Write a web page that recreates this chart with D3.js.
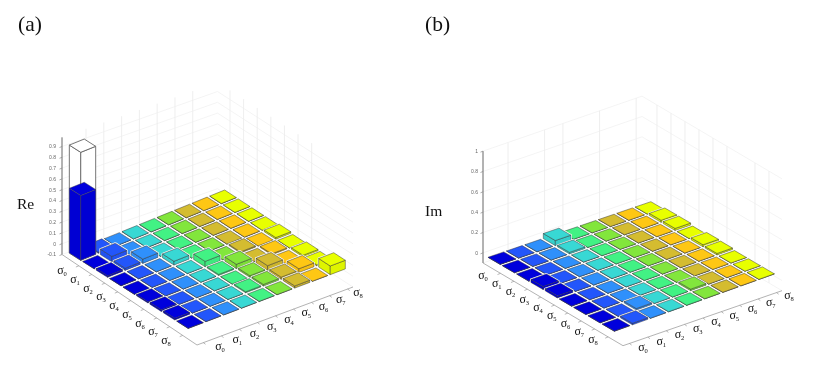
<!DOCTYPE html>
<html><head><meta charset="utf-8">
<script src="https://cdn.jsdelivr.net/npm/d3@7"></script>
<style>html,body{margin:0;padding:0;background:#fff}svg{display:block;filter:blur(.35px)}</style>
</head><body><svg id="c" width="831" height="382"></svg>
<script>
const basis = ["0","1","2","3","4","5","6","7","8"];
const columnColors = ["#0000dc","#2356fb","#2f90fb","#38d8d4","#42f284","#82e63c","#d4bc30","#fec714","#e8ff00"];
const reTicks = [-0.1,0,0.1,0.2,0.3,0.4,0.5,0.6,0.7,0.8,0.9];
const imTicks = [0,0.2,0.4,0.6,0.8,1];
const reIdeal = 1.0;
const imIdeal = 0;
const reValues = [
 [.60,.01,.002,.002,.002,.002,.002,.002,.002],
 [.002,.05,.002,.002,.002,.002,.002,.002,.002],
 [.015,.02,.04,.002,.002,.002,.002,.002,.002],
 [.002,.002,.002,.035,.002,.002,.002,.002,.002],
 [.002,.002,.002,.002,.05,.002,.01,.002,.015],
 [.01,.002,.002,.002,.01,.04,.002,.01,.002],
 [.015,.002,.002,.002,.002,.015,.045,.002,.015],
 [.015,.002,.002,.002,.01,.015,.02,.035,.01],
 [.002,.002,.002,.002,.002,.002,.02,.002,.08]
];
const imValues = [
 [.002,.002,.002,.05,.002,.002,.002,.002,.002],
 [.002,.002,.002,.015,.002,.002,.002,.002,.02],
 [.002,.002,.002,.002,.002,.002,.002,.002,.02],
 [.03,.002,.002,.002,.002,.002,.002,.002,.002],
 [.02,.002,.002,.002,.002,.002,.002,.002,.02],
 [.002,.002,.002,.002,.002,.002,.002,.002,.015],
 [.002,.002,.002,.002,.002,.002,.002,.002,.002],
 [.002,.002,.015,.002,.002,.015,.002,.002,.002],
 [.002,.015,.002,.002,.002,.002,.002,.002,.002]
];
const svg = d3.select("#c");
function bilinear(c){
  return (u,v)=>{
    const a=[d3.interpolate(c[0][0],c[1][0])(u),d3.interpolate(c[0][1],c[1][1])(u)];
    const b=[d3.interpolate(c[2][0],c[3][0])(u),d3.interpolate(c[2][1],c[3][1])(u)];
    return [a[0]+(b[0]-a[0])*v,a[1]+(b[1]-a[1])*v];
  };
}
function panel(o){
  const g=svg.append("g");
  const iS=d3.scaleLinear([0,8],[0,1]), jS=d3.scaleLinear([0,8],[0,1]);
  const grid=bilinear(o.grid);
  const zPx=d3.scaleLinear([0,1],[0,o.zUnit]);
  const P=(i,j,z)=>{const p=grid(iS(i),jS(j));return [p[0],p[1]-zPx(z)];};
  const [L,F,R,B]=o.floor;
  const zF=o.zFloor;
  const up=z=>zPx(z)-zPx(zF);
  const line=d3.line();
  const seg=(a,b,col,w)=>g.append("path").attr("d",line([a,b])).attr("fill","none").attr("stroke",col).attr("stroke-width",w);
  const lerp=(a,b,t)=>[a[0]+(b[0]-a[0])*t,a[1]+(b[1]-a[1])*t];
  o.ticks.filter(t=>t>zF+1e-6).concat([zF]).forEach(t=>{
    const a=[L[0],L[1]-up(t)],b=[B[0],B[1]-up(t)],c=[R[0],R[1]-up(t)];
    g.append("path").attr("d",line([a,b,c])).attr("fill","none").attr("stroke","#f1f1f1").attr("stroke-width",.8);
  });
  const tJ=d3.scaleLinear(o.jLim,[0,1]), tI=d3.scaleLinear(o.iLim,[0,1]);
  const wJ=d3.scaleLinear(o.wallJLim,[0,1]), wI=d3.scaleLinear(o.wallILim,[0,1]);
  o.wallJ.forEach(j=>{const p=lerp(L,B,wJ(j));seg(p,[p[0],p[1]-up(o.zTop)],"#ececec",.9);});
  o.wallI.forEach(i=>{const p=lerp(B,R,wI(i));seg(p,[p[0],p[1]-up(o.zTop)],"#ececec",.9);});
  seg(L,[L[0],L[1]-up(o.zTop)],"#666",1);
  seg(L,F,"#aaa",.9); seg(F,R,"#aaa",.9);
  o.ticks.forEach(t=>{
    const y=L[1]-up(t);
    seg([L[0]-2.5,y+1],[L[0],y],"#888",.7);
    g.append("text").attr("x",L[0]-o.tickGap).attr("y",y+1.8).attr("text-anchor","end")
      .attr("font-family","Liberation Sans").attr("font-size",5).attr("fill","#666")
      .text(Math.abs(t)<1e-9?"0":String(t));
  });
  basis.forEach((s,k)=>{
    const p=lerp(L,F,tI(k)); const q=lerp(F,R,tJ(k));
    seg(p,[p[0]-3,p[1]+1.2],"#999",.7);
    seg(q,[q[0]+2.2,q[1]+1.6],"#999",.7);
    [o.labL(k),o.labB(k)].forEach(pt=>{
      const t=g.append("text").attr("x",pt[0]).attr("y",pt[1]+3).attr("text-anchor","middle")
       .attr("font-family","Liberation Serif").attr("font-size",12).attr("fill","#111");
      t.append("tspan").text("σ");
      t.append("tspan").attr("dy",2).attr("font-size",6.5).text(s);
    });
  });
  const cells=[];
  o.values.forEach((row,i)=>row.forEach((v,j)=>cells.push({i,j,v})));
  cells.sort((a,b)=>(a.i-a.j)-(b.i-b.j));
  const h=.425;
  const quad=(pts,fill,stroke,sw)=>g.append("path").attr("d",line(pts)+"Z").attr("fill",fill).attr("stroke",stroke).attr("stroke-width",sw).attr("stroke-linejoin","round");
  const box=(c,z,col,side,stroke,sw,halo)=>{
    const l=[c.i-h,c.j-h], f=[c.i+h,c.j-h], r=[c.i+h,c.j+h], b=[c.i-h,c.j+h];
    const T=q=>P(q[0],q[1],z), G=q=>P(q[0],q[1],0);
    if(halo) quad([G(l),G(f),G(r),T(r),T(b),T(l)],"#fff","#fff",halo);
    quad([G(l),G(f),T(f),T(l)],side,stroke,sw);
    quad([G(f),G(r),T(r),T(f)],side,stroke,sw);
    quad([T(l),T(f),T(r),T(b)],col,stroke,sw);
  };
  cells.forEach(c=>{
    const col=columnColors[c.j];
    if(c.i===0&&c.j===0&&o.ideal>0) box(c,o.ideal,"#fff","#fff","#666",.9,0);
    box(c,c.v,col,d3.rgb(col).darker(.12).formatHex(),c.v>.2?"#444":"#2a2a2a",.45,c.v>.2?0:2);
  });
  g.append("text").attr("x",o.title[0]).attr("y",o.title[1]).attr("font-family","Liberation Serif").attr("font-size",21.5).attr("fill","#111").text(o.title[2]);
  g.append("text").attr("x",o.name[0]).attr("y",o.name[1]).attr("font-family","Liberation Serif").attr("font-size",15.5).attr("fill","#111").text(o.name[2]);
}
const sx=(a,b)=>d3.scaleLinear([0,8],[a,b]);
const mk=(x0,x1,y0,y1)=>{const X=sx(x0,x1),Y=sx(y0,y1);return k=>[X(k),Y(k)];};
panel({
  values:reValues, ideal:reIdeal, ticks:reTicks, zUnit:108, zFloor:-0.1, zTop:0.985, tickGap:6,
  grid:[[82.5,253.7],[190,322],[223,197],[332,268]],
  floor:[[62,254.5],[197,345],[353,287],[217.5,199.5]],
  iLim:[-1.3,9.1], jLim:[-.35,8.3],
  wallJLim:[-1.35,7.39], wallILim:[-.92,9.04], wallJ:[0,1,2,3,4,5,6], wallI:[0,1,2,3,4,5,6],
  labL:mk(62,166,271,341), labB:mk(220,358,347,293),
  title:[18,31,"(a)"], name:[17,208.5,"Re"]
});
panel({
  values:imValues, ideal:imIdeal, ticks:imTicks, zUnit:101.7, zFloor:-0.1, zTop:1, tickGap:5,
  grid:[[502,258.3],[616,325],[649,208],[760.7,273.3]],
  floor:[[483,263],[623,345.7],[782,290.7],[642,208]],
  iLim:[-1.3,9.1], jLim:[-.35,8.3],
  wallJLim:[-1.366,7.32], wallILim:[-1.07,8.93], wallJ:[0,2,3,5,7], wallI:[0,1,2,3,4,5,7,8],
  labL:mk(483,593,276,340), labB:mk(643,789,348,296),
  title:[425,31,"(b)"], name:[425,216,"Im"]
});
</script></body></html>
